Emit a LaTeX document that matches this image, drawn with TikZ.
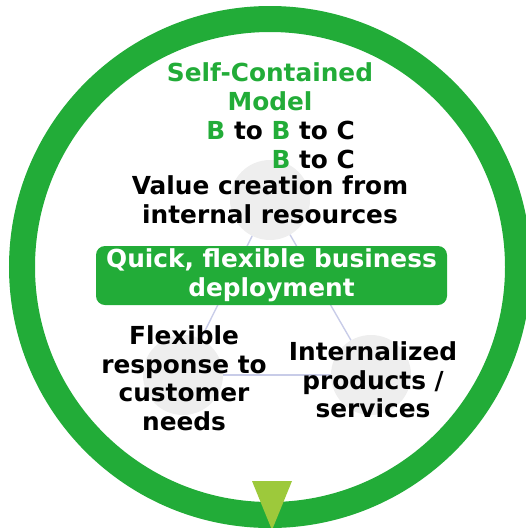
\documentclass[tikz,border=0pt]{standalone}
\usepackage{fontspec}
\setmainfont{DejaVu Sans}
\usepackage{xcolor}
\usetikzlibrary{positioning}
\definecolor{ringgreen}{RGB}{34,172,56}
\definecolor{leafgreen}{RGB}{157,201,59}
\definecolor{softgray}{RGB}{238,238,238}
\definecolor{linkblue}{RGB}{200,204,232}
\tikzstyle{txt} = [font=\bfseries\fontsize{24.8}{28.5}\selectfont, align=center, inner sep=0pt]
\tikzstyle{spot} = [circle, fill=softgray, minimum size=80pt, inner sep=0pt]
\tikzstyle{link} = [draw=linkblue, line width=1.4pt]
\tikzstyle{hubbox} = [rectangle, rounded corners=9pt, fill=ringgreen, text=white, minimum width=351pt, minimum height=59pt]

\begin{document}
\begin{tikzpicture}[x=1pt,y=-1pt]
          \useasboundingbox (0,0) rectangle (526,528);
          \clip (0,0) rectangle (526,528);
          \draw [ringgreen, line width=26pt] (270,267) circle (248pt);
          \fill [leafgreen] (252,481) -- (292,481) -- (272,530) -- cycle;
          \node (top) [spot] at (270,200) {};
          \node (left) [spot] at (183,375) {};
          \node (right) [spot] at (371,375) {};
          \draw [link] (top) -- (left);
          \draw [link] (top) -- (right);
          \draw [link] (left) -- (right);
          \node (title) [txt, text=ringgreen] at (270,87) {Self-Contained\\Model};
          \node (flow) [txt, align=right, anchor=east] at (355,145) {\textcolor{ringgreen}{B} to \textcolor{ringgreen}{B} to C\\\textcolor{ringgreen}{B} to C};
          \node (value) [txt] at (270,200) {Value creation from\\internal resources};
          \node (hub) [hubbox, txt, inner sep=0pt] at (271.5,275.5) {Quick, flexible business\\deployment};
          \node (needs) [txt] at (184,378) {Flexible\\response to\\customer\\needs};
          \node (goods) [txt] at (373,380) {Internalized\\products /\\services};
        \end{tikzpicture}
\end{document}
